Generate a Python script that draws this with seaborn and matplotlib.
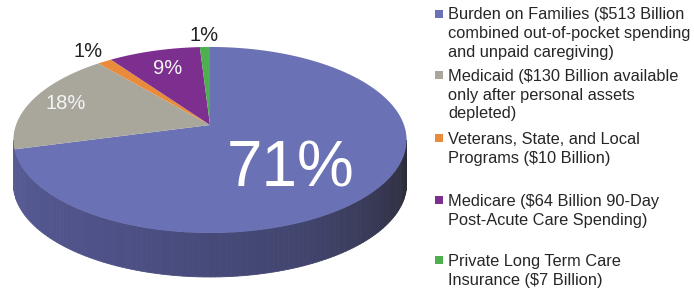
import numpy as np
import matplotlib
matplotlib.use('Agg')
import matplotlib.pyplot as plt
import seaborn as sns
from matplotlib.path import Path
from matplotlib.patches import Polygon
from matplotlib.transforms import Transform, Affine2D
from matplotlib.colors import LinearSegmentedColormap

sns.set_theme(style='white')
plt.rcParams['font.family'] = ['Liberation Sans', 'DejaVu Sans']

# data (billions of dollars)
sources = [
    ['Burden on Families ($513 Billion', 'combined out-of-pocket spending', 'and unpaid caregiving)'],
    ['Medicaid ($130 Billion available', 'only after personal assets', 'depleted)'],
    ['Veterans, State, and Local', 'Programs ($10 Billion)'],
    ['Medicare ($64 Billion 90-Day', 'Post-Acute Care Spending)'],
    ['Private Long Term Care', 'Insurance ($7 Billion)'],
]
billions = [513, 130, 10, 64, 7]
colors = ['#6A71B5', '#A9A69C', '#E98B3A', '#7C2F8F', '#4DAF4E']

# layout, pixels (y measured from the top of the image)
W, H = 694, 288
vx, vy = 210, 125          # pie vertex
A, B, K = 194, 90.6, 0.161  # half width, half depth, perspective
thick = 44
label_r = [0.5, 0.81, 1.18, 0.73, 1.18]
label_nudge = [(0, -15), (0, 0), (0, 0), (0, 0), (0, 0)]
label_size = [46, 14.5, 14.5, 14.5, 14.5]
label_col = ['white', '#f4f4f4', '#222222', '#f4f4f4', '#222222']
legend_base = [19.5, 81, 144, 206, 266]   # baseline of each entry's first line
line_gap = 18.6


class Perspective(Transform):
    """Tilted disc: unit circle (u, v) -> pixel data coordinates."""
    input_dims = output_dims = 2

    def transform_non_affine(self, pts):
        pts = np.asarray(pts, dtype=float).reshape(-1, 2)
        d = 1 + K * pts[:, 1]
        return np.column_stack([vx + A * pts[:, 0] / d,
                                (H - vy) + B * pts[:, 1] / d])

    def transform_path_non_affine(self, path):
        fine = path.to_polygons(transform=Affine2D().scale(400), closed_only=True)
        parts = [Path(self.transform_non_affine(p / 400.0), closed=True) for p in fine]
        return Path.make_compound_path(*parts)


persp = Perspective()

fig = plt.figure(figsize=(W / 100, H / 100), dpi=100)
ax = fig.add_axes([0, 0, 1, 1])

# visible side of the disc (front arc between the two silhouette points)
side_cmap = LinearSegmentedColormap.from_list(
    'side', ['#5A5D97', '#4D5187', '#41446C', '#2B2B36'])
phi = np.linspace(np.pi + np.arcsin(K), 2 * np.pi - np.arcsin(K), 121)
rim = persp.transform_non_affine(np.column_stack([np.cos(phi), np.sin(phi)]))
for i in range(len(phi) - 1):
    top = rim[i:i + 2]
    low = top - [0, thick]
    c = side_cmap(i / (len(phi) - 2))
    ax.add_patch(Polygon(np.vstack([top, low[::-1]]), closed=True,
                         facecolor=c, edgecolor=c, lw=0.6, zorder=1))

# top face
wedges, _ = ax.pie(billions, colors=colors, startangle=90, counterclock=False,
                   wedgeprops=dict(linewidth=0))
for w in wedges:
    w.set_transform(persp + ax.transData)
    w.set_zorder(2)

total = sum(billions)
for w, v, r, (dx, dy), fs, c in zip(wedges, billions, label_r, label_nudge,
                                    label_size, label_col):
    mid = np.deg2rad((w.theta1 + w.theta2) / 2)
    x, y = persp.transform_non_affine([[r * np.cos(mid), r * np.sin(mid)]])[0]
    ax.text(x + dx, y + dy, f'{100 * v / total:.0f}%', color=c, fontsize=fs,
            ha='center', va='center', zorder=3)

# legend, drawn by hand so each marker sits on the first line of its entry
for lines, col, base in zip(sources, colors, legend_base):
    ax.scatter([439], [H - base + 6], marker='s', s=34, color=col, zorder=3, lw=0)
    for j, line in enumerate(lines):
        ax.text(448, H - (base + j * line_gap), line, fontsize=11.8,
                color='#262626', ha='left', va='baseline', zorder=3)

ax.set_aspect('auto')
ax.set_xlim(0, W)
ax.set_ylim(0, H)
ax.axis('off')

fig.savefig('out.png', dpi=100, facecolor='white')
